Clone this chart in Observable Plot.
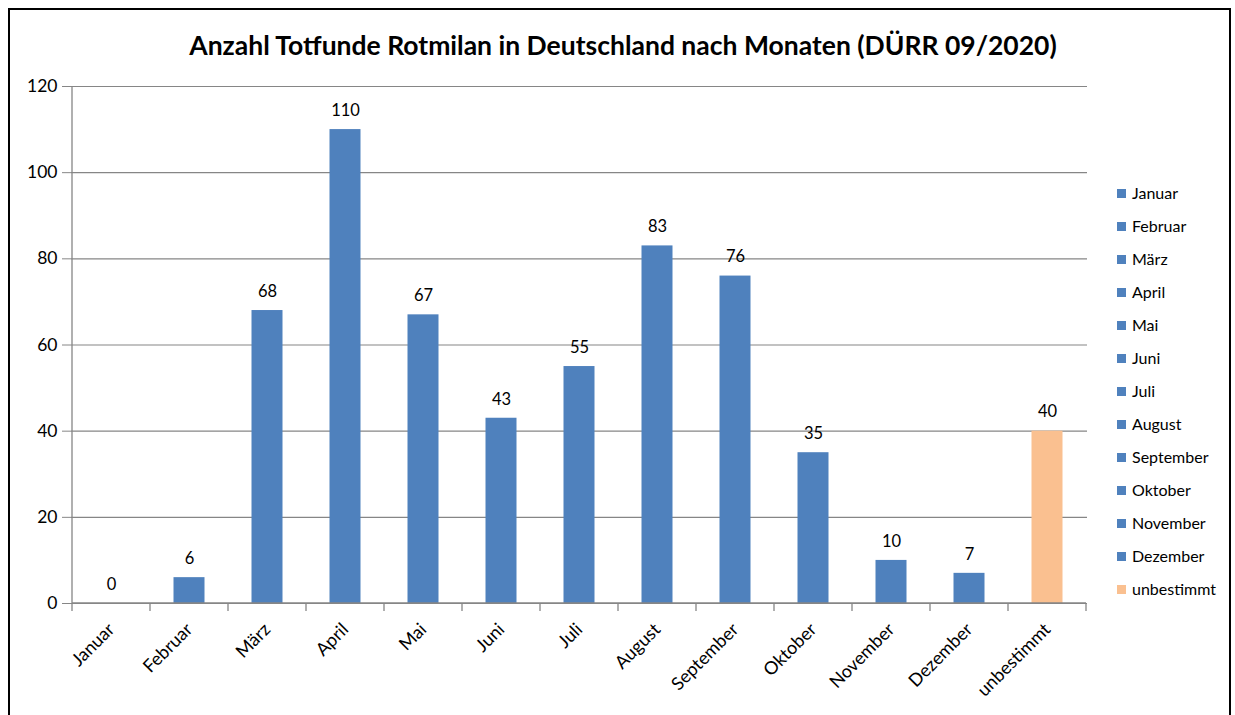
<!DOCTYPE html>
<html><head><meta charset="utf-8">
<script src="https://cdn.jsdelivr.net/npm/d3@7"></script>
<script src="https://cdn.jsdelivr.net/npm/@observablehq/plot@0.6"></script>
<style>
body{margin:0;background:#fff;font-family:Lato,"Open Sans",sans-serif;}
#wrap{position:relative;width:1235px;height:715px;overflow:hidden;background:#fff;}
#frame{position:absolute;left:8px;top:8px;width:1223px;height:730px;border:2px solid #000;box-sizing:border-box;}
#title{position:absolute;left:0;width:1246px;top:29px;text-align:center;font-weight:bold;font-size:26.5px;color:#000;}
#chart{position:absolute;left:0;top:0;}
#legend{position:absolute;left:1117px;top:184px;font-size:16px;line-height:18px;color:#000;}
.li{height:33px;display:flex;align-items:flex-start;}
.sw{width:9px;height:9px;margin-right:6px;margin-top:4.5px;}
</style></head>
<body>
<div id="wrap">
  <div id="frame"></div>
  <div id="title">Anzahl Totfunde Rotmilan in Deutschland nach Monaten (DÜRR 09/2020)</div>
  <div id="chart"></div>
  <div id="legend"></div>
</div>
<script>
const months = ["Januar","Februar","März","April","Mai","Juni","Juli","August","September","Oktober","November","Dezember","unbestimmt"];
const counts = [0,6,68,110,67,43,55,83,76,35,10,7,40];
const barColors = ["#4F81BD","#4F81BD","#4F81BD","#4F81BD","#4F81BD","#4F81BD","#4F81BD","#4F81BD","#4F81BD","#4F81BD","#4F81BD","#4F81BD","#FAC090"];
const yTicks = [0,20,40,60,80,100,120];

const data = months.map((m,i)=>({month:m,count:counts[i],color:barColors[i]}));
const axisGray = "#868686";

function axisLines(index, scales, values, dimensions) {
  const x = scales.x, y = scales.y;
  const step = x(months[1]) - x(months[0]);
  const x0 = x(months[0]), x1 = x(months[months.length-1]) + step;
  const y0 = y(0), yTop = y(120);
  const g = d3.create("svg:g").attr("stroke", axisGray).attr("stroke-width", 1.3).attr("fill","none");
  g.append("line").attr("x1", x0).attr("x2", x0).attr("y1", yTop).attr("y2", y0);
  g.append("line").attr("x1", x0).attr("x2", x1).attr("y1", y0).attr("y2", y0);
  const bounds = months.map(m => x(m)).concat([x1]);
  for (const b of bounds) g.append("line").attr("x1", b).attr("x2", b).attr("y1", y0).attr("y2", y0 + 8);
  return g.node();
}

const chart = Plot.plot({
  width: 1235, height: 715,
  marginLeft: 71, marginRight: 148, marginTop: 86, marginBottom: 112,
  style: {fontFamily: "Lato, 'Open Sans', sans-serif", fontSize: "16px", color: "#000", background: "transparent"},
  x: {domain: months, padding: 0, label: null, axis: null},
  y: {domain: [0,120], label: null, axis: null},
  marks: [
    Plot.ruleY(yTicks, {y: d => d, stroke: axisGray, strokeWidth: 1.2}),
    Plot.barY(data, {x: "month", y: "count", fill: "color", insetLeft: 23.5, insetRight: 23.5}),
    Plot.text(data, {x: "month", y: "count", text: d => String(d.count), dy: -19, fontSize: 16.5, fill: "#000"}),
    Plot.axisY({ticks: yTicks, tickSize: 9, tickPadding: 5, stroke: axisGray, fill: "#000", fontSize: 17.5, label: null}),
    Plot.axisX({tickSize: 0, tickRotate: -45, tickPadding: 23, fill: "#000", fontSize: 18, label: null}),
    axisLines
  ]
});
document.getElementById("chart").appendChild(chart);

const legend = document.getElementById("legend");
months.forEach((m,i) => {
  const row = document.createElement("div"); row.className = "li";
  const sw = document.createElement("div"); sw.className = "sw"; sw.style.background = barColors[i];
  const t = document.createElement("span"); t.textContent = m;
  row.appendChild(sw); row.appendChild(t); legend.appendChild(row);
});
</script>
</body></html>
